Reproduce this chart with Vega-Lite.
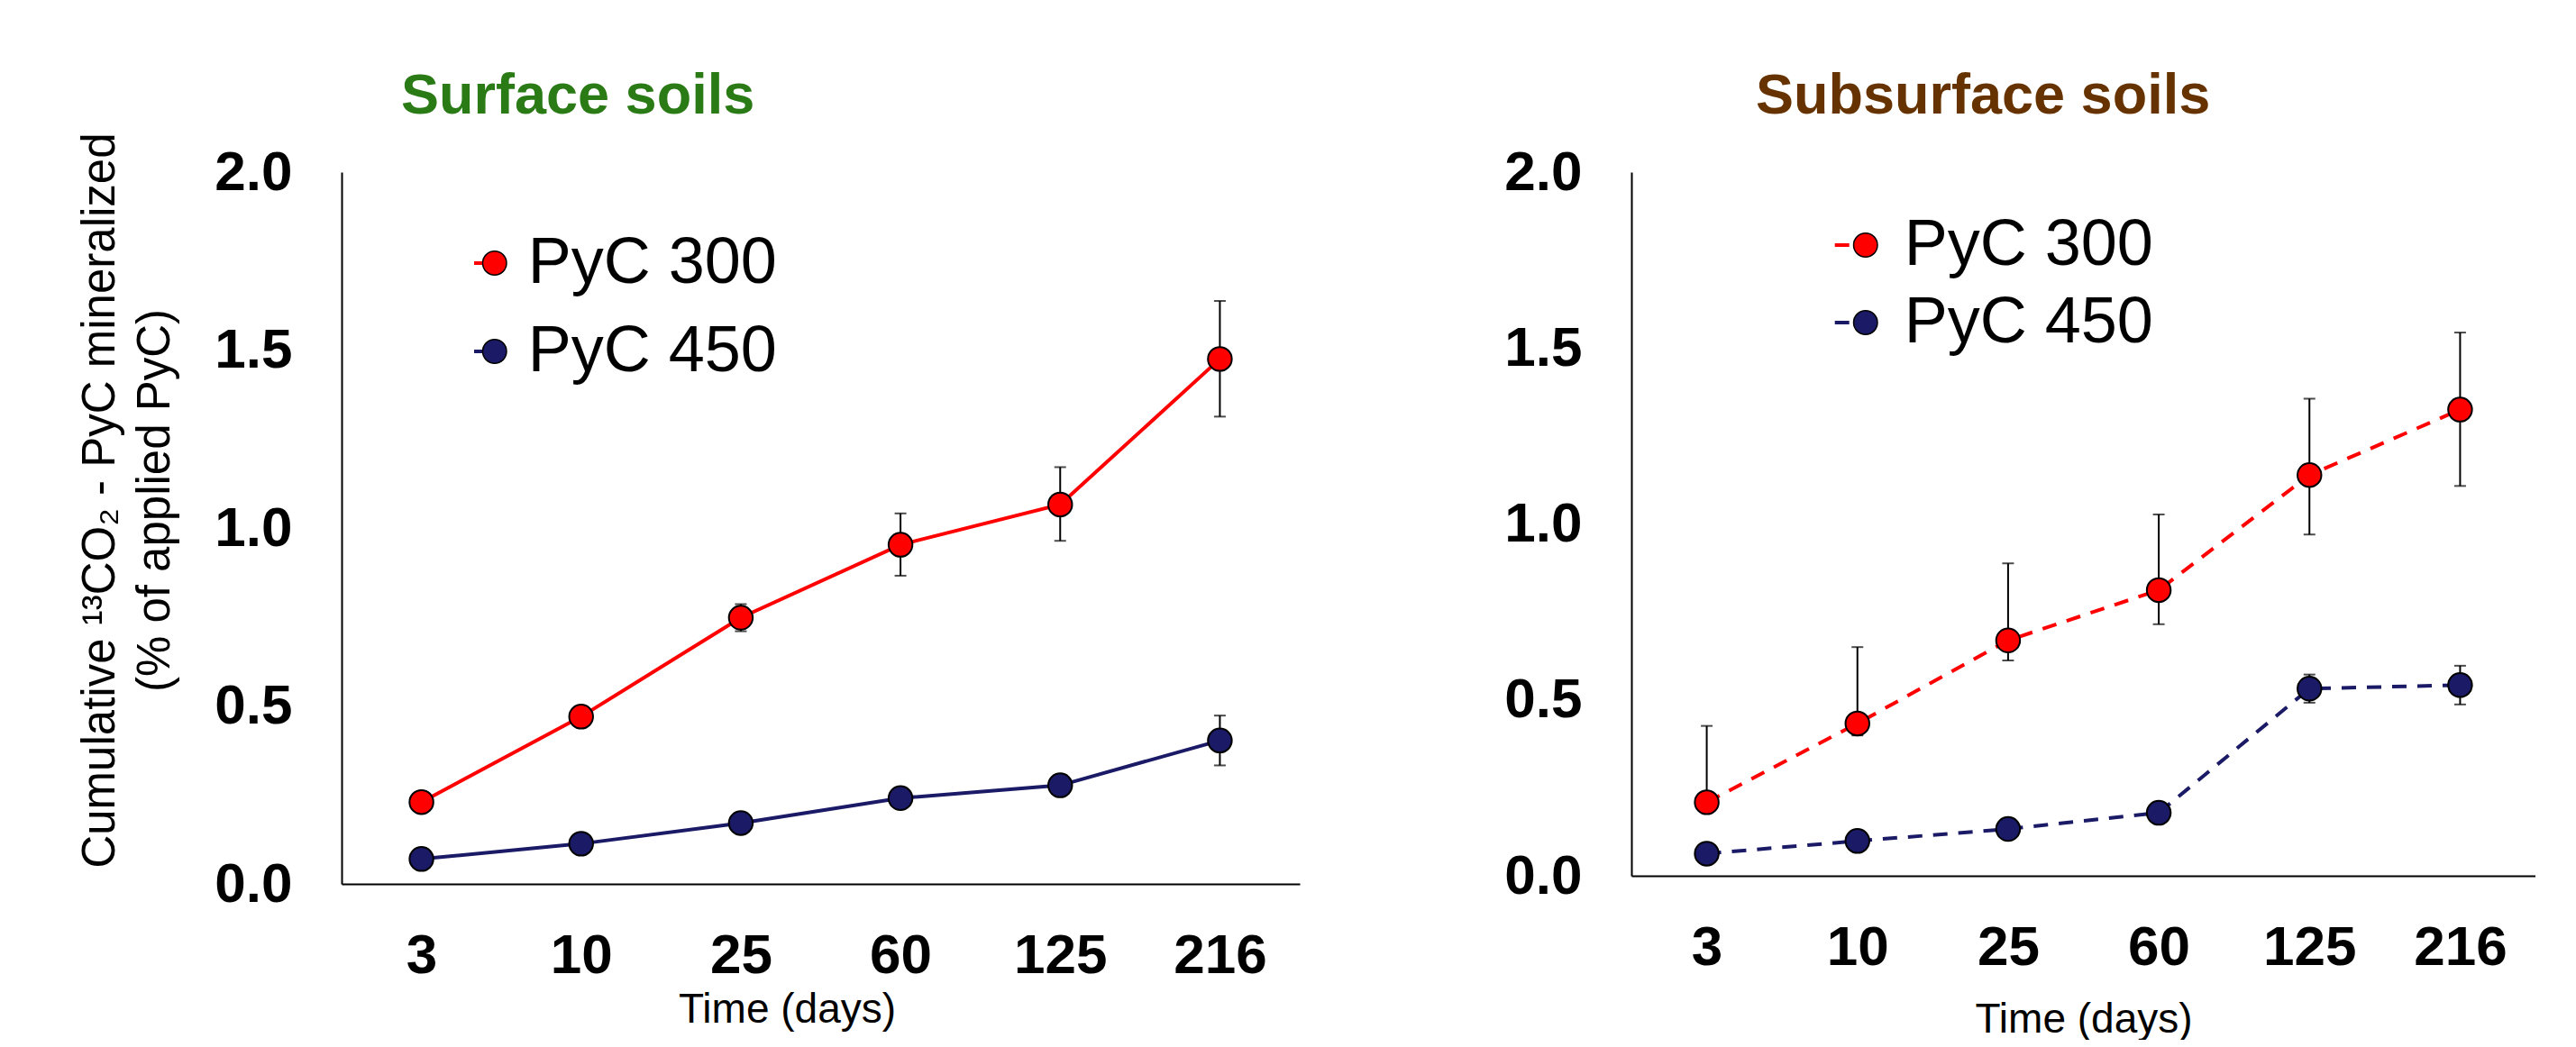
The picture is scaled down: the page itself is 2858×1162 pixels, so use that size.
{
  "$schema": "https://vega.github.io/schema/vega-lite/v6.json",
  "background": "white",
  "padding": {"left": 84, "top": 75, "right": 0, "bottom": 0},
  "autosize": {"type": "pad"},
  "spacing": 226,
  "config": {"view": {"stroke": null}, "font": "Liberation Sans"},
  "resolve": {"scale": {"color": "independent", "stroke": "independent"}, "legend": {"color": "independent", "stroke": "independent"}},
  "datasets": {
    "d": [
      {"panel": "Surface", "series": "PyC 300", "day": 3, "value": 0.23, "low": 0.22, "high": 0.24},
      {"panel": "Surface", "series": "PyC 300", "day": 10, "value": 0.47, "low": 0.46, "high": 0.48},
      {"panel": "Surface", "series": "PyC 300", "day": 25, "value": 0.748, "low": 0.71, "high": 0.786},
      {"panel": "Surface", "series": "PyC 300", "day": 60, "value": 0.953, "low": 0.866, "high": 1.041},
      {"panel": "Surface", "series": "PyC 300", "day": 125, "value": 1.066, "low": 0.964, "high": 1.171},
      {"panel": "Surface", "series": "PyC 300", "day": 216, "value": 1.475, "low": 1.313, "high": 1.638},
      {"panel": "Surface", "series": "PyC 450", "day": 3, "value": 0.07, "low": 0.065, "high": 0.075},
      {"panel": "Surface", "series": "PyC 450", "day": 10, "value": 0.113, "low": 0.108, "high": 0.118},
      {"panel": "Surface", "series": "PyC 450", "day": 25, "value": 0.171, "low": 0.165, "high": 0.177},
      {"panel": "Surface", "series": "PyC 450", "day": 60, "value": 0.241, "low": 0.235, "high": 0.247},
      {"panel": "Surface", "series": "PyC 450", "day": 125, "value": 0.277, "low": 0.27, "high": 0.285},
      {"panel": "Surface", "series": "PyC 450", "day": 216, "value": 0.403, "low": 0.333, "high": 0.473},
      {"panel": "Subsurface", "series": "PyC 300", "day": 3, "value": 0.209, "low": 0.195, "high": 0.426},
      {"panel": "Subsurface", "series": "PyC 300", "day": 10, "value": 0.433, "low": 0.399, "high": 0.65},
      {"panel": "Subsurface", "series": "PyC 300", "day": 25, "value": 0.669, "low": 0.612, "high": 0.888},
      {"panel": "Subsurface", "series": "PyC 300", "day": 60, "value": 0.812, "low": 0.715, "high": 1.027},
      {"panel": "Subsurface", "series": "PyC 300", "day": 125, "value": 1.139, "low": 0.97, "high": 1.356},
      {"panel": "Subsurface", "series": "PyC 300", "day": 216, "value": 1.325, "low": 1.108, "high": 1.544},
      {"panel": "Subsurface", "series": "PyC 450", "day": 3, "value": 0.063, "low": 0.058, "high": 0.068},
      {"panel": "Subsurface", "series": "PyC 450", "day": 10, "value": 0.099, "low": 0.094, "high": 0.104},
      {"panel": "Subsurface", "series": "PyC 450", "day": 25, "value": 0.133, "low": 0.128, "high": 0.138},
      {"panel": "Subsurface", "series": "PyC 450", "day": 60, "value": 0.179, "low": 0.173, "high": 0.185},
      {"panel": "Subsurface", "series": "PyC 450", "day": 125, "value": 0.532, "low": 0.492, "high": 0.572},
      {"panel": "Subsurface", "series": "PyC 450", "day": 216, "value": 0.542, "low": 0.487, "high": 0.597}
    ]
  },
  "hconcat": [
    {
      "width": 1063,
      "height": 790,
      "data": {"name": "d"},
      "transform": [{"filter": "datum.panel === 'Surface'"}],
      "title": {"text": "Surface soils", "color": "#2a7a15", "fontSize": 63, "fontWeight": "bold", "font": "Liberation Sans", "anchor": "start", "frame": "group", "dx": 66, "baseline": "alphabetic", "offset": -42},
      "encoding": {
        "x": {"field": "day", "type": "ordinal", "scale": {"type": "point", "padding": 0.5},
          "axis": {"title": "Time (days)", "titleFontSize": 46, "titleFontWeight": "normal", "titleColor": "black", "titleBaseline": "alphabetic", "titleY": 153, "titleX": 494, "labelFontSize": 62, "labelFontWeight": "bold", "labelColor": "black", "labelPadding": 49, "labelAngle": 0, "ticks": false, "tickSize": 0, "domainColor": "black", "domainWidth": 2, "grid": false}}
      },
      "layer": [
        {
          "mark": {"type": "line", "strokeWidth": 4},
          "encoding": {
            "y": {"field": "value", "type": "quantitative", "scale": {"domain": [0, 2], "nice": false},
              "axis": {"title": ["Cumulative ¹³CO₂ - PyC mineralized", "(% of applied  PyC)"], "titleFontSize": 51, "titleFontWeight": "normal", "titleColor": "black", "titleLineHeight": 61, "titleBaseline": "alphabetic", "titleX": -253, "titleY": 364, "titleAngle": -90, "titleAlign": "center", "labelFontSize": 62, "labelFontWeight": "bold", "labelColor": "black", "labelPadding": 55, "ticks": false, "tickSize": 0, "grid": false, "domainColor": "black", "domainWidth": 2, "values": [0, 0.5, 1, 1.5, 2], "format": ".1f"}},
            "stroke": {"field": "series", "type": "nominal", "scale": {"range": ["#ff0000", "#1a1a66"]},
              "legend": {"orient": "none", "legendX": 129, "legendY": 65, "title": null, "symbolType": "stroke", "symbolSize": 1296, "symbolStrokeWidth": 4, "labelFontSize": 72, "labelOpacity": 0, "labelExpr": "''", "labelLimit": 0, "rowPadding": 26, "padding": 0, "zindex": 1}}
          }
        },
        {
          "mark": {"type": "rule", "color": "black", "strokeWidth": 2},
          "encoding": {
            "y": {"field": "low", "type": "quantitative", "title": ["Cumulative ¹³CO₂ - PyC mineralized", "(% of applied  PyC)"]},
            "y2": {"field": "high"}
          }
        },
        {
          "mark": {"type": "tick", "color": "black", "thickness": 2, "size": 13, "orient": "horizontal"},
          "encoding": {"y": {"field": "low", "type": "quantitative", "title": ["Cumulative ¹³CO₂ - PyC mineralized", "(% of applied  PyC)"]}}
        },
        {
          "mark": {"type": "tick", "color": "black", "thickness": 2, "size": 13, "orient": "horizontal"},
          "encoding": {"y": {"field": "high", "type": "quantitative", "title": ["Cumulative ¹³CO₂ - PyC mineralized", "(% of applied  PyC)"]}}
        },
        {
          "mark": {"type": "point", "filled": true, "size": 700, "stroke": "black", "strokeWidth": 2, "opacity": 1},
          "encoding": {
            "y": {"field": "value", "type": "quantitative", "title": ["Cumulative ¹³CO₂ - PyC mineralized", "(% of applied  PyC)"]},
            "color": {"field": "series", "type": "nominal", "scale": {"domain": ["PyC 300", "PyC 450"], "range": ["#ff0000", "#1a1a66"]},
              "legend": {"orient": "none", "legendX": 133.75, "legendY": 65, "title": null, "symbolType": "circle", "symbolSize": 700, "labelFontSize": 72, "labelColor": "black", "labelOffset": 1, "labelLimit": 0, "rowPadding": 26, "padding": 0, "zindex": 2,
                "encode": {"symbols": {"update": {"stroke": {"value": "black"}, "strokeWidth": {"value": 2}, "opacity": {"value": 1}}}}}}
          }
        }
      ]
    },
    {
      "width": 1003,
      "height": 781,
      "data": {"name": "d"},
      "transform": [{"filter": "datum.panel === 'Subsurface'"}],
      "title": {"text": "Subsurface soils", "color": "#663300", "fontSize": 63, "fontWeight": "bold", "font": "Liberation Sans", "anchor": "start", "frame": "group", "dx": 138, "baseline": "alphabetic", "offset": -29},
      "encoding": {
        "x": {"field": "day", "type": "ordinal", "scale": {"type": "point", "padding": 0.5},
          "axis": {"title": "Time (days)", "titleFontSize": 46, "titleFontWeight": "normal", "titleColor": "black", "titleBaseline": "alphabetic", "titleY": 173, "labelFontSize": 62, "labelFontWeight": "bold", "labelColor": "black", "labelPadding": 49, "labelAngle": 0, "ticks": false, "tickSize": 0, "domainColor": "black", "domainWidth": 2, "grid": false}}
      },
      "layer": [
        {
          "mark": {"type": "line", "strokeWidth": 4, "strokeDash": [16, 12]},
          "encoding": {
            "y": {"field": "value", "type": "quantitative", "scale": {"domain": [0, 2], "nice": false},
              "axis": {"title": null, "labelFontSize": 62, "labelFontWeight": "bold", "labelColor": "black", "labelPadding": 55, "ticks": false, "tickSize": 0, "grid": false, "domainColor": "black", "domainWidth": 2, "values": [0, 0.5, 1, 1.5, 2], "format": ".1f"}},
            "stroke": {"field": "series", "type": "nominal", "scale": {"range": ["#ff0000", "#1a1a66"]},
              "legend": {"orient": "none", "legendX": 213.35, "legendY": 45, "title": null, "symbolType": "stroke", "symbolSize": 2240, "symbolStrokeWidth": 4, "symbolDash": [16, 12], "labelFontSize": 72, "labelOpacity": 0, "labelExpr": "''", "labelLimit": 0, "rowPadding": 14, "padding": 0, "zindex": 1}}
          }
        },
        {
          "mark": {"type": "rule", "color": "black", "strokeWidth": 2},
          "encoding": {
            "y": {"field": "low", "type": "quantitative", "title": null},
            "y2": {"field": "high"}
          }
        },
        {
          "mark": {"type": "tick", "color": "black", "thickness": 2, "size": 13, "orient": "horizontal"},
          "encoding": {"y": {"field": "low", "type": "quantitative", "title": null}}
        },
        {
          "mark": {"type": "tick", "color": "black", "thickness": 2, "size": 13, "orient": "horizontal"},
          "encoding": {"y": {"field": "high", "type": "quantitative", "title": null}}
        },
        {
          "mark": {"type": "point", "filled": true, "size": 700, "stroke": "black", "strokeWidth": 2, "opacity": 1},
          "encoding": {
            "y": {"field": "value", "type": "quantitative", "title": null},
            "color": {"field": "series", "type": "nominal", "scale": {"domain": ["PyC 300", "PyC 450"], "range": ["#ff0000", "#1a1a66"]},
              "legend": {"orient": "none", "legendX": 223.75, "legendY": 45, "title": null, "symbolType": "circle", "symbolSize": 700, "labelFontSize": 72, "labelColor": "black", "labelOffset": 7, "labelLimit": 0, "rowPadding": 14, "padding": 0, "zindex": 2,
                "encode": {"symbols": {"update": {"stroke": {"value": "black"}, "strokeWidth": {"value": 2}, "opacity": {"value": 1}}}}}}
          }
        }
      ]
    }
  ]
}
